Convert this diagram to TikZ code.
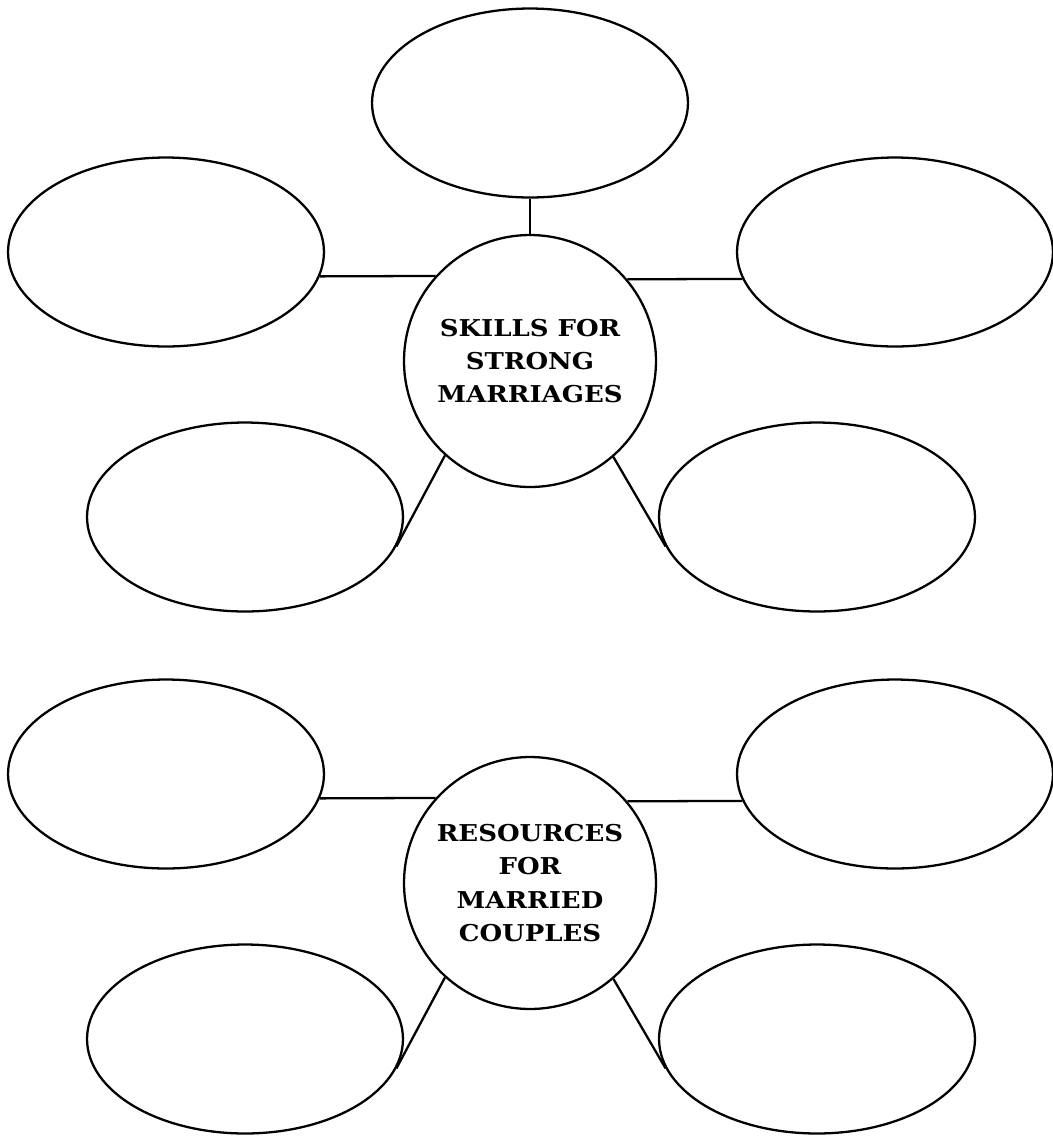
\documentclass[tikz,border=0pt]{standalone}
\usepackage{fontspec}
\setmainfont{DejaVu Serif}
\newfontfamily\hubfont[FakeStretch=1.12]{DejaVu Serif}
\usetikzlibrary{shapes.geometric}
\tikzset{
  bubble/.style={ellipse, draw, line width=1.3pt, minimum width=6.32cm, minimum height=3.78cm, inner sep=0pt},
  hub/.style={circle, draw, line width=1.3pt, minimum size=5.04cm, inner sep=0pt, align=center,
    font=\hubfont\fontsize{13.2}{19}\selectfont\bfseries},
  link/.style={line width=1.3pt}
}
\begin{document}
\begin{tikzpicture}[x=0.02cm, y=-0.02cm]
\useasboundingbox (0,0) rectangle (1053,1137);
% group 1
\node[hub] (c1) at (530,361) {SKILLS FOR\\STRONG\\MARRIAGES};
\node[bubble] (t1) at (530,103) {};
\node[bubble] (l1) at (166,252) {};
\node[bubble] (r1) at (895,252) {};
\node[bubble] (ll1) at (245,517) {};
\node[bubble] (lr1) at (817,517) {};
\draw[link] (c1.north) -- (c1.north |- t1.south);
\draw[link] (c1.138.6) -- (l1.-9.3);
\draw[link] (c1.40.2) -- (r1.190.1);
\draw[link] (c1.228.5) -- (ll1.-11);
\draw[link] (c1.311.2) -- (lr1.191);
% group 2
\node[hub] (c2) at (530,883) {RESOURCES\\FOR\\MARRIED\\COUPLES};
\node[bubble] (l2) at (166,774) {};
\node[bubble] (r2) at (895,774) {};
\node[bubble] (ll2) at (245,1039) {};
\node[bubble] (lr2) at (817,1039) {};
\draw[link] (c2.138.6) -- (l2.-9.3);
\draw[link] (c2.40.2) -- (r2.190.1);
\draw[link] (c2.228.5) -- (ll2.-11);
\draw[link] (c2.311.2) -- (lr2.191);
\end{tikzpicture}
\end{document}
